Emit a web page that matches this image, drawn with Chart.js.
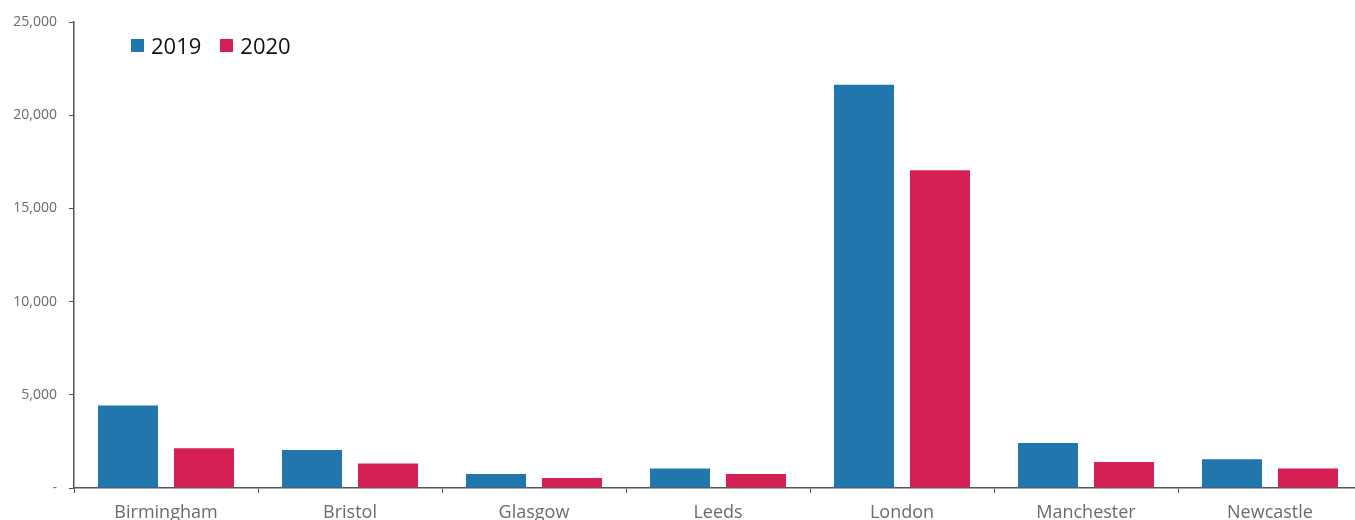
<!DOCTYPE html>
<html>
<head>
<meta charset="utf-8">
<script src="https://cdn.jsdelivr.net/npm/chart.js@4.4.0/dist/chart.umd.min.js"></script>
<style>
  html, body { margin: 0; padding: 0; overflow: hidden; background: #fff; }
  #wrap { position: relative; width: 1362px; height: 537px; }
  #legend { position: absolute; left: 131px; top: 30px; font-family: "Open Sans", sans-serif; font-size: 22px; color: #111; display: flex; align-items: center; }
  #legend span.box { display: inline-block; width: 13px; height: 13px; margin-right: 7px; }
  #legend span.item { display: inline-flex; align-items: center; margin-right: 19px; }
</style>
</head>
<body>
<div id="wrap">
  <canvas id="cityChart"></canvas>
  <div id="legend"></div>
</div>
<script>
// 데이터
const cities = ['Birmingham', 'Bristol', 'Glasgow', 'Leeds', 'London', 'Manchester', 'Newcastle'];
const values2019 = [4430, 2040, 750, 1040, 21640, 2410, 1540];
const values2020 = [2130, 1320, 540, 750, 17040, 1400, 1040];
const seriesNames = ['2019', '2020'];
const seriesColors = ['#2176ae', '#d42054'];

const axisColor = '#555555';
const tickColor = '#6b6b6b';

// 범례 (HTML)
const legendEl = document.getElementById('legend');
seriesNames.forEach((name, i) => {
  const item = document.createElement('span');
  item.className = 'item';
  item.innerHTML = `<span class="box" style="background:${seriesColors[i]}"></span>${name}`;
  legendEl.appendChild(item);
});

const ctx = document.getElementById('cityChart').getContext('2d');
new Chart(ctx, {
  type: 'bar',
  data: {
    labels: cities,
    datasets: [
      { label: seriesNames[0], data: values2019, backgroundColor: seriesColors[0] },
      { label: seriesNames[1], data: values2020, backgroundColor: seriesColors[1] },
    ],
  },
  options: {
    responsive: true,
    maintainAspectRatio: false,
    animation: false,
    categoryPercentage: 0.826,
    barPercentage: 0.79,
    layout: { padding: { top: 22, right: 0, bottom: 0, left: 0 } },
    plugins: {
      legend: { display: false },
      tooltip: { enabled: false },
    },
    scales: {
      x: {
        afterFit: (scale) => { scale.height = 49; },
        border: { color: axisColor, width: 1.5 },
        grid: { offset: true, drawOnChartArea: false, tickLength: 5, color: axisColor },
        ticks: {
          color: tickColor,
          padding: 9,
          font: { family: 'Open Sans', size: 18 },
        },
      },
      y: {
        min: 0,
        max: 25000,
        afterFit: (scale) => { scale.width = 74; },
        border: { color: axisColor, width: 1.5 },
        grid: { drawOnChartArea: false, tickLength: 5, color: axisColor },
        ticks: {
          stepSize: 5000,
          color: tickColor,
          padding: 12,
          font: { family: 'Open Sans', size: 14 },
          callback: (val) => (val === 0 ? '-' : val.toLocaleString('en-US')),
        },
      },
    },
  },
});
</script>
</body>
</html>
